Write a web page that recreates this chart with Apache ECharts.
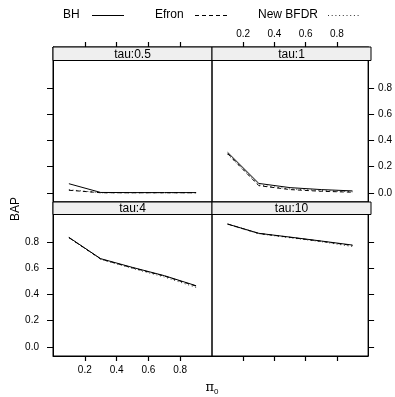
<!DOCTYPE html>
<html>
<head>
<meta charset="utf-8">
<script src="https://cdn.jsdelivr.net/npm/echarts@6/dist/echarts.min.js"></script>
<style>
  html, body { margin: 0; padding: 0; background: #fff; }
  #chart { width: 395px; height: 397px; }
</style>
</head>
<body>
<div id="chart"></div>
<script>
// pi0 values on the x axis
const pi0 = [0.1, 0.3, 0.5, 0.7, 0.9];
const panelNames = ["tau:0.5", "tau:1", "tau:4", "tau:10"];
const methods = ["BH", "Efron", "New BFDR"];
const xTicks = [0.2, 0.4, 0.6, 0.8];
const yTicks = [0, 0.2, 0.4, 0.6, 0.8];

// BAP per panel, one array per method
const bhTau05 = [0.07, 0.003, 0.002, 0.002, 0.002];
const efronTau05 = [0.02, 0.001, 0.001, 0.001, 0.001];
const bfdrTau05 = [0.024, 0.001, 0.001, 0.001, 0.001];

const bhTau1 = [0.31, 0.072, 0.04, 0.025, 0.015];
const efronTau1 = [0.3, 0.055, 0.025, 0.012, 0.005];
const bfdrTau1 = [0.295, 0.06, 0.03, 0.018, 0.008];

const bhTau4 = [0.838, 0.675, 0.608, 0.545, 0.468];
const efronTau4 = [0.836, 0.672, 0.605, 0.542, 0.465];
const bfdrTau4 = [0.835, 0.67, 0.6, 0.535, 0.455];

const bhTau10 = [0.94, 0.869, 0.84, 0.81, 0.779];
const efronTau10 = [0.94, 0.868, 0.838, 0.808, 0.776];
const bfdrTau10 = [0.938, 0.866, 0.835, 0.805, 0.768];

const panelData = [
  [bhTau05, efronTau05, bfdrTau05],
  [bhTau1, efronTau1, bfdrTau1],
  [bhTau4, efronTau4, bfdrTau4],
  [bhTau10, efronTau10, bfdrTau10],
];

const font = "Liberation Sans, Arial, sans-serif";
const lineTypes = ["solid", [4, 3], [1, 2.7]];
const lineColors = ["#000", "#000", "#333"];

// panel layout (lattice 2x2); each grid includes its strip on top
const panelLeft = [53, 212, 53, 212];
const panelWidth = 159;
const panelTop = [47, 47, 202, 202];
const stripH = [13.5, 13.5, 12.5, 12.5];
const plotH = 141.5;
const yMin = -0.07, yMaxPlot = 1.013;
const pxPerUnit = plotH / (yMaxPlot - yMin);

const chart = echarts.init(document.getElementById("chart"), null, { renderer: "canvas" });

const grids = [0, 1, 2, 3].map(i => ({
  left: panelLeft[i], top: panelTop[i], width: panelWidth, height: plotH + stripH[i],
  show: true, borderColor: "#000", borderWidth: 1, backgroundColor: "transparent",
}));

const tickFont = { fontSize: 10, fontFamily: font };

const xAxes = [0, 1, 2, 3].map(i => {
  const top = i < 2;
  const labels = i === 1 || i === 2;
  return {
    type: "value", gridIndex: i, min: 0, max: 1,
    position: top ? "top" : "bottom",
    axisLine: { show: true, onZero: false, lineStyle: { color: "#000", width: 1 } },
    splitLine: { show: false },
    axisTick: { show: true, inside: false, length: 5, lineStyle: { color: "#000", width: 1.2 }, customValues: xTicks },
    axisLabel: Object.assign({ show: labels, color: "#000", customValues: xTicks,
      margin: top ? 8 : 9, formatter: v => v.toFixed(1) }, tickFont),
  };
});

const yAxes = [0, 1, 2, 3].map(i => {
  const left = i % 2 === 0;
  const labels = i === 1 || i === 2;
  return {
    type: "value", gridIndex: i, min: yMin, max: yMaxPlot + stripH[i] / pxPerUnit,
    position: left ? "left" : "right",
    axisLine: { show: true, onZero: false, lineStyle: { color: "#000", width: 1 } },
    splitLine: { show: false },
    axisTick: { show: true, inside: false, length: 6, lineStyle: { color: "#000" }, customValues: yTicks },
    axisLabel: Object.assign({ show: true, color: labels ? "#000" : "rgba(0,0,0,0)",
      margin: left ? 14 : 10, customValues: yTicks, hideOverlap: false,
      formatter: v => v.toFixed(1) }, tickFont),
  };
});

const series = [];
panelData.forEach((sets, p) => {
  sets.forEach((vals, m) => {
    series.push({
      name: methods[m], type: "line", xAxisIndex: p, yAxisIndex: p,
      symbol: "none", showSymbol: false, silent: true,
      lineStyle: { color: lineColors[m], width: 1, type: lineTypes[m] },
      data: pi0.map((x, k) => [x, vals[k]]),
      z: 3 - m,
    });
  });
});

const graphics = [];
panelNames.forEach((name, i) => {
  graphics.push({
    type: "rect", z: 10,
    shape: { x: panelLeft[i], y: panelTop[i], width: panelWidth, height: stripH[i] },
    style: { fill: "#efefef", stroke: "#000", lineWidth: 1 },
  });
  graphics.push({
    type: "text", z: 11,
    x: panelLeft[i] + panelWidth / 2, y: panelTop[i] + stripH[i] / 2 + 0.5,
    style: { text: name, fontSize: 12, fontFamily: font, fill: "#000", align: "center", verticalAlign: "middle" },
  });
});

// key at the top: label then line sample
const keyTextX = [63, 155, 258];
const keyLineX = [92, 195, 328];
methods.forEach((name, m) => {
  graphics.push({
    type: "text", x: keyTextX[m], y: 15,
    style: { text: name, fontSize: 12, fontFamily: font, fill: "#000", verticalAlign: "middle" },
  });
  graphics.push({
    type: "line", shape: { x1: keyLineX[m], y1: 15.5, x2: keyLineX[m] + 32, y2: 15.5 },
    style: { stroke: lineColors[m], lineWidth: 1, lineDash: m === 0 ? null : lineTypes[m] },
  });
});

graphics.push({
  type: "text", x: 16, y: 209, rotation: Math.PI / 2,
  style: { text: "BAP", fontSize: 12, fontFamily: font, fill: "#000", align: "center", verticalAlign: "middle" },
});
graphics.push({
  type: "text", x: 212, y: 388,
  style: {
    text: "{p|π}{s|0}", align: "center", verticalAlign: "middle",
    rich: {
      p: { fontSize: 13, fontFamily: "DejaVu Serif, serif", fill: "#000" },
      s: { fontSize: 8, fontFamily: font, fill: "#000", padding: [7, 0, 0, 0] },
    },
  },
});

chart.setOption({
  animation: false,
  backgroundColor: "#fff",
  grid: grids,
  xAxis: xAxes,
  yAxis: yAxes,
  series: series,
  graphic: graphics,
});
</script>
</body>
</html>
